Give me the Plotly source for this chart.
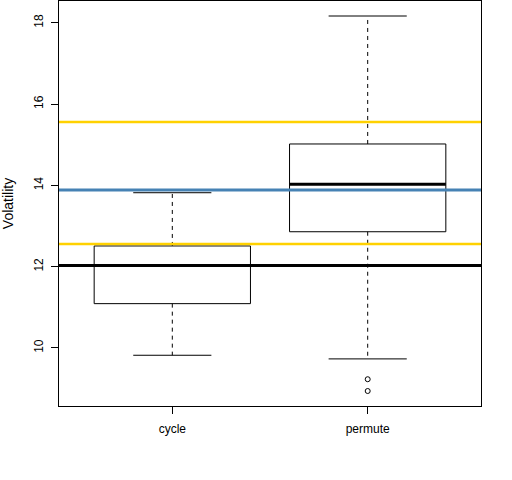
import plotly.graph_objects as go

groups = ["cycle", "permute"]
lower_whisker = [9.82, 9.73]
q1 = [11.09, 12.86]
median = [12.03, 14.03]
q3 = [12.51, 15.02]
upper_whisker = [13.82, 18.17]
outlier_group = ["permute", "permute"]
outlier_vals = [9.23, 8.94]

# reference lines drawn across the plot
gold_lines = [15.56, 12.56]
blue_line = 13.89
black_line = 12.03

box_half = 0.4
cap_half = 0.2

fig = go.Figure()

for i, g in enumerate(groups):
    pos = i + 1
    # box
    fig.add_trace(go.Scatter(
        x=[pos - box_half, pos + box_half, pos + box_half, pos - box_half, pos - box_half],
        y=[q1[i], q1[i], q3[i], q3[i], q1[i]],
        mode="lines", line=dict(color="black", width=1), showlegend=False))
    # median
    fig.add_trace(go.Scatter(
        x=[pos - box_half, pos + box_half], y=[median[i], median[i]],
        mode="lines", line=dict(color="black", width=3), showlegend=False))
    # dashed whiskers
    fig.add_trace(go.Scatter(
        x=[pos, pos, None, pos, pos],
        y=[q3[i], upper_whisker[i], None, q1[i], lower_whisker[i]],
        mode="lines", line=dict(color="black", width=1, dash="4px,4px"), showlegend=False))
    # caps
    fig.add_trace(go.Scatter(
        x=[pos - cap_half, pos + cap_half, None, pos - cap_half, pos + cap_half],
        y=[upper_whisker[i], upper_whisker[i], None, lower_whisker[i], lower_whisker[i]],
        mode="lines", line=dict(color="black", width=1), showlegend=False))

# outliers
fig.add_trace(go.Scatter(
    x=[groups.index(g) + 1 for g in outlier_group], y=outlier_vals,
    mode="markers", marker=dict(symbol="circle-open", size=5, color="black", line=dict(width=1)),
    showlegend=False))

for v in gold_lines:
    fig.add_hline(y=v, line=dict(color="#FFD100", width=2.5))
fig.add_hline(y=blue_line, line=dict(color="#4682B4", width=3))
fig.add_hline(y=black_line, line=dict(color="black", width=3))

lo = min(lower_whisker + outlier_vals)
hi = max(upper_whisker)
pad = (hi - lo) * 0.04
xpad = len(groups) * 0.04

fig.update_layout(
    width=512, height=480,
    margin=dict(l=59, r=31, t=1, b=74),
    paper_bgcolor="white", plot_bgcolor="white",
    font=dict(family="Liberation Sans, Arial", size=12, color="black"),
    hovermode=False,
    xaxis=dict(
        range=[0.5 - xpad, len(groups) + 0.5 + xpad],
        tickvals=[1, 2], ticktext=groups, ticklabelstandoff=5,
        showgrid=False, zeroline=False, automargin=False,
        showline=True, mirror=True, linecolor="black", linewidth=1,
        ticks="outside", ticklen=7, tickcolor="black",
    ),
    yaxis=dict(
        range=[lo - pad, hi + pad],
        tickvals=[10, 12, 14, 16, 18],
        tickangle=-90, ticklabelstandoff=3,
        showgrid=False, zeroline=False, automargin=False,
        showline=True, mirror=True, linecolor="black", linewidth=1,
        ticks="outside", ticklen=7, tickcolor="black",
        title=dict(text="Volatility", standoff=20),
    ),
)

# page body margin would shift the figure
fig.write_html("out.html", config={"displayModeBar": False},
               post_script="document.body.style.margin='0';")
